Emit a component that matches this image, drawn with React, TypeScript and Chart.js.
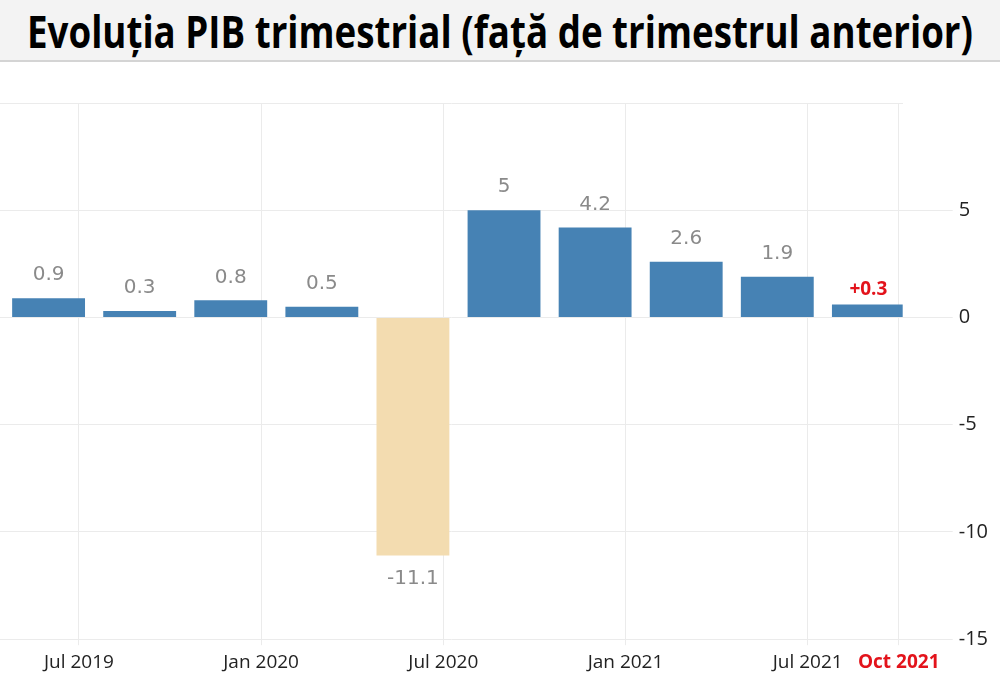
import React, { useEffect, useLayoutEffect, useRef } from "react";
import { Chart, registerables } from "chart.js";

Chart.register(...registerables);

const TITLE = "Evoluția PIB trimestrial (față de trimestrul anterior)";

// months counted from Jan 2019 (0); each bar sits at the last month of its quarter
const quarterMonths = [5, 8, 11, 14, 17, 20, 23, 26, 29, 32];
const quarterNames = [
  "T2 2019", "T3 2019", "T4 2019", "T1 2020", "T2 2020",
  "T3 2020", "T4 2020", "T1 2021", "T2 2021", "T3 2021",
];
const values = [0.9, 0.3, 0.8, 0.5, -11.1, 5, 4.2, 2.6, 1.9, 0.6];
const valueLabels = ["0.9", "0.3", "0.8", "0.5", "-11.1", "5", "4.2", "2.6", "1.9", "+0.3"];

const xTickMonths = [6, 12, 18, 24, 30, 33];
const xTickLabels = ["Jul 2019", "Jan 2020", "Jul 2020", "Jan 2021", "Jul 2021", "Oct 2021"];
const yTicks = [-15, -10, -5, 0, 5, 10];
const yHiddenTick = 10;

const BLUE = "#4682b4";
const SAND = "#f3dcb0";
const RED = "#e3131b";
const GRID = "#ebebeb";

const valueLabelPlugin = {
  id: "valueLabels",
  afterDatasetsDraw(chart: any) {
    const ctx = chart.ctx;
    const meta = chart.getDatasetMeta(0);
    ctx.save();
    ctx.textAlign = "center";
    ctx.textBaseline = "middle";
    meta.data.forEach((el: any, i: number) => {
      const v = values[i];
      const highlight = i === values.length - 1;
      if (highlight) {
        ctx.fillStyle = RED;
        ctx.font = "bold 19px 'Open Sans', sans-serif";
        ctx.fillText(valueLabels[i], el.x, el.y - 15);
      } else {
        ctx.fillStyle = "#8a8a8a";
        ctx.font = "20px 'DejaVu Sans', sans-serif";
        ctx.fillText(valueLabels[i], el.x, v >= 0 ? el.y - 23 : el.y + 23);
      }
    });
    ctx.restore();
  },
};

export default function App() {
  const canvasRef = useRef<HTMLCanvasElement | null>(null);
  const titleRef = useRef<HTMLSpanElement | null>(null);

  useLayoutEffect(() => {
    document.body.style.margin = "0";
    const t = titleRef.current;
    if (t) {
      const w = t.offsetWidth;
      if (w > 0) t.style.transform = `scaleX(${946 / w})`;
    }
  }, []);

  useEffect(() => {
    if (!canvasRef.current) return;
    const chart = new Chart(canvasRef.current, {
      type: "bar",
      data: {
        labels: quarterNames,
        datasets: [
          {
            data: quarterMonths.map((m, i) => ({ x: m, y: values[i] })),
            backgroundColor: values.map((v) => (v < 0 ? SAND : BLUE)),
            borderWidth: 0,
            barPercentage: 0.8,
            categoryPercentage: 1,
          },
        ],
      },
      options: {
        animation: false,
        responsive: false,
        maintainAspectRatio: false,
        layout: { padding: { top: 41, right: 6, bottom: 8, left: 0 } },
        plugins: {
          legend: { display: false },
          tooltip: { enabled: false },
          title: { display: false },
        },
        scales: {
          x: {
            type: "linear",
            min: 3.4,
            max: 33.13,
            offset: false,
            afterBuildTicks: (axis: any) => {
              axis.ticks = xTickMonths.map((v) => ({ value: v }));
            },
            ticks: {
              autoSkip: false,
              maxRotation: 0,
              padding: 6,
              callback: (v: any) => {
                const i = xTickMonths.indexOf(Number(v));
                return i >= 0 ? xTickLabels[i] : "";
              },
              color: (c: any) => (c.index === xTickLabels.length - 1 ? RED : "#222"),
              font: (c: any) =>
                c.index === xTickLabels.length - 1
                  ? { family: "'Open Sans', sans-serif", size: 19, weight: "bold" }
                  : { family: "'Open Sans', sans-serif", size: 19 },
            },
            grid: { color: GRID, tickLength: 6, lineWidth: 1, offset: false },
            border: { display: false },
          },
          y: {
            position: "right",
            min: -15,
            max: 10,
            afterBuildTicks: (axis: any) => {
              axis.ticks = yTicks.map((v) => ({ value: v }));
            },
            ticks: {
              padding: 6,
              color: "#222",
              font: { family: "'Open Sans', sans-serif", size: 20 },
              callback: (v: any) => (Number(v) === yHiddenTick ? "" : String(v)),
            },
            grid: {
              color: GRID,
              tickLength: 50,
              tickColor: (c: any) => (c.tick && c.tick.value === yHiddenTick ? "rgba(0,0,0,0)" : GRID),
            },
            border: { display: false },
          },
        },
      },
      plugins: [valueLabelPlugin],
    } as any);
    return () => chart.destroy();
  }, []);

  return (
    <div style={{ position: "relative", width: 1000, height: 688, background: "#fff", overflow: "hidden" }}>
      <div
        style={{
          position: "absolute",
          left: 0,
          top: 0,
          width: 1000,
          height: 60,
          background: "#f3f3f3",
          borderBottom: "2px solid #d4d4d4",
          display: "flex",
          alignItems: "center",
          justifyContent: "center",
          overflow: "hidden",
        }}
      >
        <span
          ref={titleRef}
          style={{
            display: "inline-block",
            whiteSpace: "nowrap",
            fontFamily: "'Open Sans', sans-serif",
            fontWeight: 700,
            fontSize: 44,
            color: "#000",
            transformOrigin: "center center",
            lineHeight: "60px",
            marginTop: 2,
          }}
        >
          {TITLE}
        </span>
      </div>
      <canvas
        ref={canvasRef}
        width={1000}
        height={626}
        style={{ position: "absolute", left: 0, top: 62, width: 1000, height: 626 }}
      />
    </div>
  );
}
